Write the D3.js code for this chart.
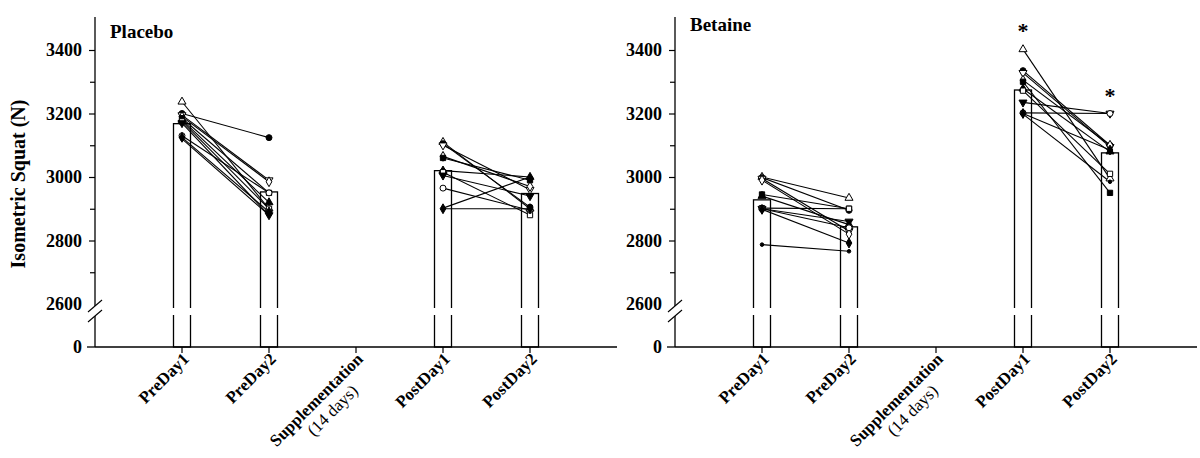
<!DOCTYPE html>
<html><head><meta charset="utf-8">
<script src="https://cdn.jsdelivr.net/npm/d3@7"></script>
<style>
body{margin:0;background:#fff}
svg{display:block}
text{font-family:"Liberation Serif","Times New Roman",serif;fill:#000}
</style>
</head><body>
<svg id="chart" width="1200" height="458"></svg>
<script>
// ---------- data ----------
const categories = ["PreDay1", "PreDay2", "Supplementation", "PostDay1", "PostDay2"];
const categorySubLabels = ["", "", "(14 days)", "", ""];
const yTickValues = [2600, 2800, 3000, 3200, 3400];
const yMinorValues = [2700, 2900, 3100, 3300];
const panelTitles = ["Placebo", "Betaine"];
const yAxisTitle = "Isometric Squat (N)";

// group means (bars)
const placeboMeans = [3168, 2953, null, 3020, 2948];
const betaineMeans = [2928, 2843, null, 3274, 3076];

// individual subjects (11 per group)
const placeboPreDay1  = [3237, 3200, 3195, 3190, 3185, 3180, 3175, 3170, 3130, 3125, 3120];
const placeboPreDay2  = [2900, 3124, 2990, 2985, 2950, 2920, 2900, 2880, 2950, 2890, 2880];
const placeboPostDay1 = [3110, 3105, 3100, 3065, 3060, 3020, 3015, 3005, 2965, 2900, 2902];
const placeboPostDay2 = [2900, 2905, 2960, 2970, 2990, 3000, 2880, 2940, 2895, 2900, 3000];

const betainePreDay1  = [3000, 2998, 2995, 2990, 2945, 2940, 2902, 2900, 2900, 2898, 2787];
const betainePreDay2  = [2934, 2895, 2830, 2820, 2900, 2850, 2900, 2860, 2840, 2792, 2766];
const betainePostDay1 = [3402, 3335, 3328, 3305, 3300, 3278, 3272, 3235, 3202, 3200, 3198];
const betainePostDay2 = [2995, 3100, 3095, 3100, 2950, 3080, 3010, 3200, 3200, 3085, 2985];

// significance markers
const placeboStars = ["", "", "", "", ""];
const betaineStars = ["", "", "", "*", "*"];

// ---------- styles ----------
const markerStyles = [
  {s: d3.symbolTriangle, fill: false, rot: 0},
  {s: d3.symbolCircle, fill: true, rot: 0},
  {s: d3.symbolTriangle, fill: false, rot: 180},
  {s: d3.symbolDiamond, fill: false, rot: 0},
  {s: d3.symbolSquare, fill: true, rot: 0},
  {s: d3.symbolTriangle, fill: true, rot: 0},
  {s: d3.symbolSquare, fill: false, rot: 0},
  {s: d3.symbolTriangle, fill: true, rot: 180},
  {s: d3.symbolCircle, fill: false, rot: 0},
  {s: d3.symbolDiamond, fill: true, rot: 0},
  {s: d3.symbolCircle, fill: true, rot: 0, small: true}
];

const svg = d3.select("#chart");

const panelLeft = [95, 675];
const panelWidth = 522;
const yTop = 17, y2600 = 304, yZero = 347;
const barWidth = 17;
const axisGap = [306, 316];
const barGap = [308, 315];

const y = d3.scaleLinear().domain([2600, 3400]).range([y2600, 50]);

function drawPanel(p, title, means, pairs, stars) {
  const ax = panelLeft[p];
  const x = d3.scaleLinear().domain([0, 6]).range([ax, ax + panelWidth]);
  const g = svg.append("g");

  // bars
  categories.forEach((c, i) => {
    const m = means[i];
    if (m == null) return;
    const cx = x(i + 1);
    g.append("rect")
      .attr("x", cx - barWidth / 2).attr("y", y(m))
      .attr("width", barWidth).attr("height", yZero - y(m))
      .attr("fill", "#fff").attr("stroke", "#000").attr("stroke-width", 1.3);
    g.append("rect")
      .attr("x", cx - barWidth / 2 - 2).attr("y", barGap[0])
      .attr("width", barWidth + 4).attr("height", barGap[1] - barGap[0])
      .attr("fill", "#fff");
  });

  // subject lines + markers
  pairs.forEach(([i0, a0, i1, a1]) => {
    const x0 = x(i0 + 1), x1 = x(i1 + 1);
    a0.forEach((v, k) => {
      g.append("line")
        .attr("x1", x0).attr("y1", y(v)).attr("x2", x1).attr("y2", y(a1[k]))
        .attr("stroke", "#000").attr("stroke-width", 1.1);
    });
    [[x0, a0], [x1, a1]].forEach(([xx, arr]) => {
      arr.forEach((v, k) => {
        const ms = markerStyles[k % markerStyles.length];
        g.append("path")
          .attr("d", d3.symbol().type(ms.s).size(ms.small ? 10 : 28)())
          .attr("transform", `translate(${xx},${y(v)}) rotate(${ms.rot})`)
          .attr("fill", ms.fill ? "#000" : "#fff")
          .attr("stroke", "#000").attr("stroke-width", 1);
      });
    });
  });

  // stars
  stars.forEach((s, i) => {
    if (!s) return;
    let mx = -Infinity;
    pairs.forEach(([i0, a0, i1, a1]) => {
      if (i0 === i) mx = Math.max(mx, d3.max(a0));
      if (i1 === i) mx = Math.max(mx, d3.max(a1));
    });
    g.append("text").attr("x", x(i + 1)).attr("y", y(mx) - 11)
      .attr("text-anchor", "middle").attr("font-size", 22).attr("font-weight", "bold")
      .text(s);
  });

  // y axis line with break
  g.append("line").attr("x1", ax).attr("x2", ax).attr("y1", yTop).attr("y2", axisGap[0])
    .attr("stroke", "#000").attr("stroke-width", 1.3);
  g.append("line").attr("x1", ax).attr("x2", ax).attr("y1", axisGap[1]).attr("y2", yZero)
    .attr("stroke", "#000").attr("stroke-width", 1.3);
  [axisGap[0], axisGap[1]].forEach(yy => {
    g.append("line").attr("x1", ax - 7).attr("y1", yy + 6).attr("x2", ax + 7).attr("y2", yy - 6)
      .attr("stroke", "#000").attr("stroke-width", 1.1);
  });

  // y ticks
  const yAxis = d3.axisLeft(y).tickValues(yTickValues).tickSize(6).tickPadding(7)
    .tickFormat(d3.format("d"));
  const ya = g.append("g").attr("transform", `translate(${ax},0)`).call(yAxis);
  ya.select(".domain").remove();
  ya.selectAll(".tick line").attr("stroke-width", 1.2);
  ya.selectAll(".tick").filter(d => d === 2600).select("line").remove();
  ya.selectAll("text").attr("font-size", 18).attr("font-weight", "bold")
    .attr("font-family", "Liberation Serif");
  const ym = g.append("g").attr("transform", `translate(${ax},0)`)
    .call(d3.axisLeft(y).tickValues(yMinorValues).tickSize(5).tickFormat(""));
  ym.select(".domain").remove();
  ym.selectAll(".tick line").attr("stroke-width", 1.2);

  // zero tick
  g.append("line").attr("x1", ax - 8).attr("x2", ax).attr("y1", yZero).attr("y2", yZero)
    .attr("stroke", "#000").attr("stroke-width", 1.3);
  g.append("text").attr("x", ax - 13).attr("y", yZero).attr("dy", "0.32em")
    .attr("text-anchor", "end").attr("font-size", 18).attr("font-weight", "bold").text("0");

  // x axis
  g.append("line").attr("x1", ax).attr("x2", ax + panelWidth).attr("y1", yZero).attr("y2", yZero)
    .attr("stroke", "#000").attr("stroke-width", 1.3);
  categories.forEach((c, i) => {
    const cx = x(i + 1);
    g.append("line").attr("x1", cx).attr("x2", cx).attr("y1", yZero).attr("y2", yZero + 6)
      .attr("stroke", "#000").attr("stroke-width", 1.2);
    const lg = g.append("g").attr("transform", `translate(${cx + 8},${yZero + 13}) rotate(-45)`);
    const t = lg.append("text").attr("text-anchor", "end").attr("font-size", 17)
      .attr("font-weight", "bold").text(c);
    if (categorySubLabels[i]) {
      const w = t.node().getComputedTextLength();
      lg.append("text").attr("x", -w / 2 + 4).attr("y", 19).attr("text-anchor", "middle")
        .attr("font-size", 17).text(categorySubLabels[i]);
    }
  });

  // title
  g.append("text").attr("x", ax + 15).attr("y", p === 0 ? 38 : 31)
    .attr("font-size", 19).attr("font-weight", "bold").text(title);
}

drawPanel(0, panelTitles[0], placeboMeans,
  [[0, placeboPreDay1, 1, placeboPreDay2], [3, placeboPostDay1, 4, placeboPostDay2]], placeboStars);
drawPanel(1, panelTitles[1], betaineMeans,
  [[0, betainePreDay1, 1, betainePreDay2], [3, betainePostDay1, 4, betainePostDay2]], betaineStars);

// y axis title
svg.append("text").attr("transform", "translate(25,184) rotate(-90)")
  .attr("text-anchor", "middle").attr("font-size", 20).attr("font-weight", "bold")
  .text(yAxisTitle);
</script>
</body></html>
